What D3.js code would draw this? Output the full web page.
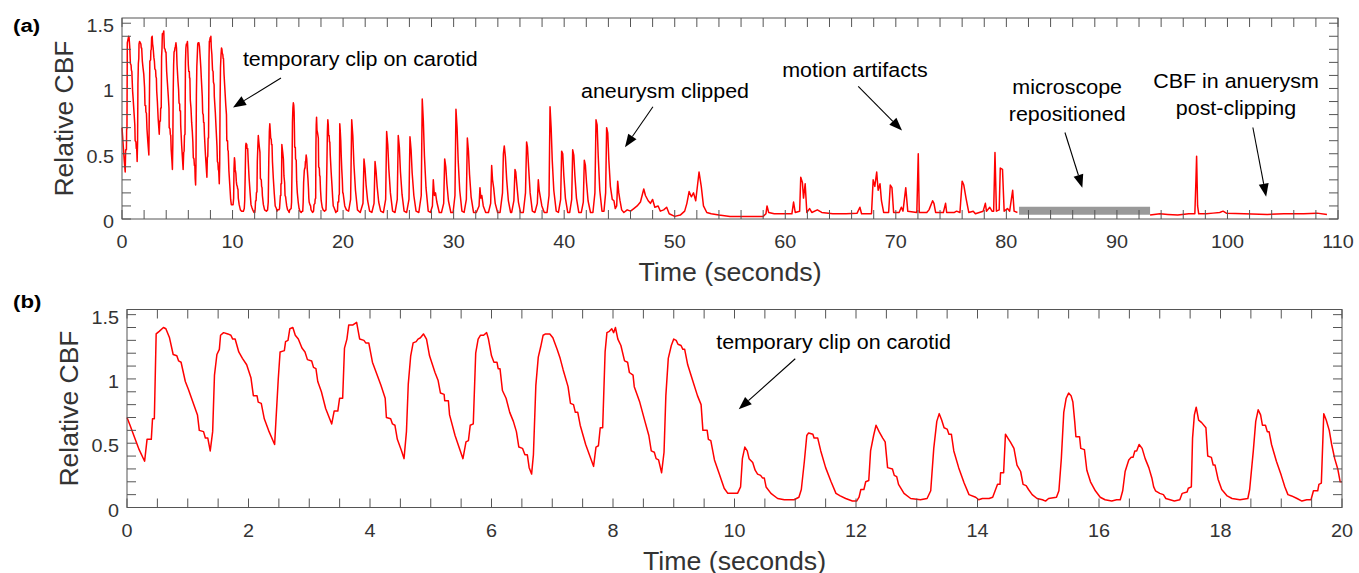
<!DOCTYPE html>
<html>
<head>
<meta charset="utf-8">
<script src="https://cdn.jsdelivr.net/npm/d3@7"></script>
<style>
  body { margin: 0; background: #fff; }
  text { font-family: "Liberation Sans", Arial, Helvetica, sans-serif; }
</style>
</head>
<body>
<svg id="chart"></svg>
<script>
// relative CBF, first 20 s (shown in both panels) -- [seconds, relative CBF]
let cbfFirst20 = [
  [0.00,0.70],[0.05,0.64],[0.12,0.55],[0.20,0.45],[0.29,0.36],[0.33,0.53],[0.40,0.53],[0.42,0.69],[0.45,0.69],
  [0.48,1.35],[0.53,1.37],[0.60,1.40],[0.64,1.39],[0.70,1.32],[0.76,1.19],[0.82,1.18],[0.85,1.14],[0.89,1.13],
  [0.96,0.98],[1.01,0.92],[1.10,0.80],[1.16,0.72],[1.19,0.60],[1.26,0.59],[1.29,0.54],[1.33,0.54],[1.37,0.44],
  [1.41,0.59],[1.44,1.03],[1.48,1.19],[1.52,1.23],[1.54,1.34],[1.59,1.36],[1.66,1.35],[1.71,1.34],[1.74,1.31],
  [1.78,1.31],[1.84,1.21],[1.90,1.16],[1.97,1.11],[2.04,1.01],[2.08,0.87],[2.14,0.87],[2.16,0.82],[2.21,0.81],
  [2.26,0.69],[2.33,0.60],[2.43,0.49],
  [2.45,0.66],[2.49,1.00],[2.52,1.21],[2.59,1.22],[2.61,1.29],[2.65,1.30],[2.68,1.39],[2.73,1.40],[2.77,1.34],
  [2.82,1.31],[2.88,1.24],[2.93,1.21],[2.97,1.15],[3.04,1.14],[3.07,1.09],[3.11,1.08],[3.14,0.98],[3.20,0.90],
  [3.27,0.77],[3.37,0.65],
  [3.41,0.75],[3.47,0.75],[3.50,0.85],[3.55,0.85],[3.58,1.24],[3.62,1.31],[3.65,1.42],[3.72,1.42],[3.78,1.44],
  [3.83,1.31],[3.90,1.30],[3.93,1.28],[3.98,1.28],[4.04,1.13],[4.11,1.04],[4.18,0.95],[4.25,0.85],[4.27,0.70],
  [4.34,0.69],[4.37,0.65],[4.41,0.64],[4.45,0.53],[4.52,0.44],[4.56,0.38],
  [4.60,0.59],[4.63,0.96],[4.67,1.18],[4.71,1.28],[4.76,1.29],[4.79,1.31],[4.83,1.32],[4.88,1.35],[4.93,1.31],
  [4.98,1.18],[5.07,1.05],[5.12,0.99],[5.16,0.89],[5.22,0.88],[5.23,0.83],[5.29,0.83],[5.31,0.72],[5.40,0.56],
  [5.53,0.38],
  [5.58,0.51],[5.62,0.52],[5.65,0.64],[5.70,0.65],[5.74,1.20],[5.78,1.31],[5.82,1.34],[5.87,1.34],[5.92,1.36],
  [5.95,1.31],[6.00,1.18],[6.04,1.13],[6.09,1.13],[6.11,1.08],[6.14,1.08],[6.18,0.91],[6.24,0.85],[6.30,0.74],
  [6.36,0.67],[6.41,0.59],[6.45,0.47],[6.51,0.46],[6.55,0.41],[6.59,0.41],[6.62,0.31],[6.66,0.26],
  [6.69,0.41],[6.73,0.95],[6.77,1.17],[6.81,1.25],[6.85,1.34],[6.89,1.35],[6.96,1.35],[7.01,1.32],[7.08,1.23],
  [7.13,1.16],[7.18,1.07],[7.26,0.94],[7.30,0.81],[7.35,0.80],[7.38,0.74],[7.42,0.74],[7.46,0.64],[7.55,0.49],
  [7.68,0.32],
  [7.72,0.47],[7.76,0.48],[7.79,0.62],[7.83,0.62],[7.87,1.21],[7.90,1.36],[7.94,1.37],[7.98,1.39],[8.01,1.36],
  [8.04,1.40],[8.08,1.31],[8.13,1.26],[8.19,1.14],[8.24,1.13],[8.27,1.05],[8.33,1.03],[8.35,0.94],[8.44,0.82],
  [8.52,0.68],[8.59,0.56],[8.63,0.44],[8.68,0.43],[8.71,0.38],[8.75,0.37],[8.80,0.27],
  [8.84,0.43],[8.87,0.87],[8.91,1.16],[8.96,1.26],[9.00,1.31],[9.04,1.30],[9.07,1.27],[9.12,1.26],[9.15,1.23],
  [9.18,1.23],[9.23,1.11],[9.31,0.99],[9.39,0.87],[9.45,0.80],[9.48,0.60],[9.55,0.60],[9.57,0.53],[9.61,0.52],
  [9.67,0.37],[9.75,0.26],[9.83,0.15],[9.89,0.11],[10.05,0.11],
  [10.10,0.16],[10.13,0.38],[10.17,0.47],[10.21,0.44],[10.24,0.38],[10.30,0.35],[10.34,0.29],[10.38,0.26],
  [10.43,0.25],[10.46,0.23],[10.49,0.23],[10.52,0.16],[10.60,0.11],[10.71,0.07],[10.82,0.06],[10.98,0.06],[11.06,0.08],
  [11.10,0.14],[11.15,0.36],[11.19,0.56],[11.22,0.58],[11.29,0.57],[11.31,0.54],[11.37,0.54],[11.42,0.44],
  [11.50,0.31],[11.59,0.20],[11.67,0.11],[11.74,0.09],[11.83,0.07],[11.94,0.05],[12.01,0.05],[12.05,0.08],
  [12.08,0.14],[12.13,0.14],[12.16,0.20],[12.21,0.21],[12.24,0.44],[12.29,0.56],[12.33,0.64],[12.38,0.59],
  [12.44,0.54],[12.48,0.51],[12.52,0.31],[12.60,0.30],[12.63,0.25],[12.67,0.24],[12.70,0.18],[12.79,0.11],
  [12.90,0.07],[13.06,0.06],[13.17,0.07],
  [13.23,0.13],[13.28,0.46],[13.33,0.67],[13.37,0.73],[13.41,0.68],[13.45,0.62],[13.50,0.61],[13.53,0.57],
  [13.57,0.57],[13.61,0.44],[13.69,0.31],[13.78,0.19],[13.86,0.10],[13.97,0.08],[14.02,0.06],[14.08,0.07],
  [14.19,0.07],[14.25,0.08],
  [14.29,0.13],[14.33,0.18],[14.37,0.18],[14.38,0.27],[14.43,0.27],[14.46,0.57],[14.50,0.54],[14.54,0.51],
  [14.60,0.46],[14.65,0.33],[14.71,0.28],[14.75,0.18],[14.80,0.17],[14.84,0.14],[14.90,0.10],[14.98,0.07],
  [15.07,0.06],[15.12,0.05],[15.17,0.07],[15.30,0.08],
  [15.34,0.13],[15.38,0.38],[15.42,0.74],[15.46,0.85],[15.50,0.89],[15.54,0.87],[15.57,0.82],[15.60,0.67],
  [15.62,0.55],[15.68,0.55],[15.70,0.46],[15.76,0.45],[15.80,0.29],[15.86,0.20],[15.94,0.13],[16.02,0.08],
  [16.10,0.06],[16.21,0.05],[16.29,0.06],[16.35,0.06],
  [16.39,0.13],[16.43,0.28],[16.49,0.37],[16.53,0.39],[16.56,0.39],[16.59,0.44],[16.62,0.44],[16.66,0.49],
  [16.71,0.46],[16.76,0.38],[16.82,0.31],[16.87,0.23],[16.90,0.16],[16.93,0.13],[17.00,0.11],[17.06,0.10],
  [17.10,0.07],[17.17,0.06],[17.24,0.05],[17.33,0.06],[17.37,0.11],[17.45,0.12],[17.47,0.15],[17.52,0.16],
  [17.54,0.54],[17.57,0.72],[17.60,0.78],[17.64,0.68],[17.69,0.66],[17.76,0.62],[17.79,0.40],[17.85,0.39],
  [17.88,0.33],[17.91,0.33],[17.96,0.22],[18.02,0.14],[18.11,0.09],[18.19,0.07],[18.32,0.06],[18.45,0.07],
  [18.48,0.14],[18.54,0.44],[18.58,0.67],[18.62,0.76],[18.66,0.72],[18.69,0.64],[18.74,0.64],[18.77,0.59],
  [18.80,0.59],[18.84,0.49],[18.92,0.36],[19.00,0.25],[19.06,0.16],[19.11,0.10],[19.17,0.09],[19.26,0.07],
  [19.34,0.05],[19.42,0.06],[19.49,0.06],[19.53,0.13],[19.60,0.13],[19.62,0.18],[19.66,0.19],
  [19.70,0.73],[19.74,0.68],[19.79,0.60],[19.83,0.49],[19.88,0.38],[19.93,0.30],[19.97,0.20],[20.00,0.20]
];

// 20 s until the microscope was moved (panel a only)
let cbfToReposition = [
  [20.15,0.10],[20.30,0.07],[20.50,0.06],[20.68,0.15],[20.78,0.76],[20.88,0.64],[20.98,0.42],[21.12,0.22],[21.30,0.07],
  [21.55,0.05],[21.80,0.12],[21.89,0.46],[21.98,0.39],[22.08,0.26],[22.22,0.14],[22.40,0.06],
  [22.60,0.05],[22.80,0.12],[22.89,0.44],[22.98,0.37],[23.08,0.25],[23.22,0.13],[23.40,0.06],
  [23.65,0.05],[23.85,0.15],[23.94,0.67],[24.04,0.57],[24.14,0.38],[24.28,0.20],[24.48,0.06],
  [24.70,0.05],[24.90,0.15],[24.99,0.64],[25.09,0.55],[25.19,0.36],[25.33,0.19],[25.52,0.06],
  [25.75,0.05],[25.96,0.15],[26.05,0.63],[26.15,0.53],[26.25,0.35],[26.40,0.18],[26.60,0.06],
  [26.85,0.05],[27.07,0.18],[27.16,0.92],[27.26,0.75],[27.36,0.48],[27.50,0.24],[27.70,0.06],
  [27.90,0.05],[28.08,0.10],[28.16,0.30],[28.26,0.18],[28.36,0.20],[28.48,0.13],[28.70,0.05],
  [28.90,0.05],[29.10,0.12],[29.19,0.46],[29.29,0.40],[29.39,0.27],[29.53,0.14],[29.75,0.05],
  [29.95,0.05],[30.12,0.18],[30.21,0.84],[30.31,0.70],[30.41,0.45],[30.55,0.22],[30.75,0.06],
  [30.95,0.05],[31.15,0.15],[31.24,0.62],[31.34,0.52],[31.44,0.34],[31.58,0.17],[31.80,0.05],
  [32.05,0.05],[32.30,0.10],[32.38,0.24],[32.46,0.16],[32.55,0.18],[32.68,0.10],[32.90,0.05],
  [33.15,0.05],[33.35,0.12],[33.44,0.41],[33.52,0.30],[33.62,0.24],[33.76,0.12],[33.98,0.05],
  [34.20,0.05],[34.42,0.20],[34.50,0.50],[34.58,0.56],[34.68,0.48],[34.80,0.30],[34.95,0.14],[35.15,0.05],
  [35.25,0.05],[35.45,0.14],[35.55,0.38],[35.62,0.36],[35.72,0.26],[35.86,0.13],[36.05,0.05],
  [36.30,0.05],[36.50,0.20],[36.60,0.59],[36.68,0.55],[36.78,0.40],[36.92,0.20],[37.12,0.06],
  [37.35,0.05],[37.57,0.12],[37.66,0.30],[37.74,0.22],[37.84,0.17],[37.98,0.10],[38.20,0.05],
  [38.45,0.05],[38.63,0.18],[38.72,0.86],[38.82,0.70],[38.92,0.45],[39.06,0.22],[39.28,0.06],
  [39.48,0.05],[39.68,0.15],[39.77,0.52],[39.87,0.50],[39.97,0.33],[40.11,0.16],[40.32,0.05],
  [40.50,0.05],[40.68,0.15],[40.77,0.53],[40.87,0.49],[40.97,0.33],[41.11,0.16],[41.32,0.05],
  [41.55,0.05],[41.73,0.13],[41.82,0.45],[41.92,0.41],[42.02,0.28],[42.16,0.14],[42.38,0.05],
  [42.60,0.05],[42.78,0.20],[42.88,0.76],[42.98,0.72],[43.08,0.48],[43.22,0.22],[43.42,0.06],
  [43.60,0.06],[43.75,0.20],[43.84,0.70],[43.94,0.66],[44.04,0.45],[44.18,0.25],[44.35,0.15],[44.50,0.14],[44.62,0.08],
  [44.75,0.10],[44.84,0.29],[44.94,0.20],[45.05,0.14],[45.20,0.07],[45.40,0.05],
  [45.70,0.07],[46.00,0.06],[46.30,0.08],[46.60,0.10],[46.90,0.13],[47.20,0.23],[47.35,0.18],[47.60,0.14],
  [47.80,0.12],[48.00,0.15],[48.20,0.09],[48.50,0.10],[48.70,0.06],[49.00,0.07],[49.27,0.09],[49.50,0.04],
  [50.00,0.02],[50.50,0.03],[50.90,0.06],[51.10,0.12],[51.30,0.21],[51.50,0.17],[51.70,0.20],[51.90,0.14],
  [52.20,0.36],[52.40,0.25],[52.60,0.10],[52.90,0.05],[53.30,0.04],[54.00,0.03],[55.00,0.02],[56.00,0.02],
  [57.00,0.02],[58.00,0.02],[58.25,0.04],[58.35,0.10],[58.50,0.05],[59.00,0.04],[60.00,0.04],[60.60,0.04],
  [60.75,0.13],[60.90,0.05],[61.30,0.06],[61.40,0.32],[61.55,0.28],[61.65,0.16],[61.80,0.27],[61.95,0.05],
  [62.20,0.08],[62.40,0.05],[62.90,0.07],[63.30,0.05],[64.30,0.04],[65.50,0.04],[66.50,0.045],[66.75,0.09],
  [66.90,0.04],[67.80,0.04],[67.95,0.30],[68.10,0.25],[68.27,0.36],[68.40,0.22],[68.57,0.27],[68.70,0.14],
  [68.90,0.05],[69.35,0.05],[69.50,0.26],[69.65,0.24],[69.80,0.05],[70.30,0.05],[70.50,0.09],[70.65,0.06],
  [70.90,0.24],[71.08,0.06],[71.90,0.05],[72.03,0.50],[72.12,0.05],[72.80,0.05],[73.00,0.07],[73.33,0.14],
  [73.45,0.12],[73.60,0.05],[74.30,0.05],[74.50,0.12],[74.60,0.05],[75.30,0.05],[75.50,0.06],[75.80,0.05],
  [76.00,0.29],[76.15,0.26],[76.35,0.16],[76.60,0.05],[77.00,0.06],[77.20,0.04],[77.90,0.06],[78.10,0.12],
  [78.20,0.06],[78.50,0.09],[78.70,0.06],[78.85,0.06],[78.97,0.51],[79.10,0.06],[79.35,0.07],[79.45,0.39],
  [79.65,0.38],[79.80,0.06],[80.10,0.08],[80.30,0.06],[80.50,0.18],[80.57,0.22],[80.70,0.06],[81.00,0.05]
];

// after the microscope was repositioned
let cbfPostClipping = [
  [93.00,0.03],[93.90,0.04],[94.60,0.035],[95.50,0.03],[96.50,0.04],[97.05,0.04],[97.15,0.30],[97.21,0.48],
  [97.30,0.10],[97.40,0.04],[98.10,0.04],[98.70,0.045],[99.30,0.05],[99.60,0.06],[99.90,0.045],[101.50,0.04],
  [103.60,0.035],[105.10,0.04],[106.90,0.04],[108.10,0.045],[109.00,0.035]
];

// gap while the microscope was repositioned [start, end] seconds, and the level of the grey bar
let repositionSpan = [81.15, 93.0];
let repositionLevel = 0.064;

let yLabels = [0, 0.5, 1, 1.5];
let xLabelsA = [0, 10, 20, 30, 40, 50, 60, 70, 80, 90, 100, 110];
let xLabelsB = [0, 2, 4, 6, 8, 10, 12, 14, 16, 18, 20];

let notesA = [
  {lines: ["temporary clip on carotid"], t: 21.55, v: 1.17, from: [14.38, 1.08], to: [10.04, 0.855]},
  {lines: ["aneurysm clipped"], t: 49.12, v: 0.93, from: [48.03, 0.86], to: [45.5, 0.55]},
  {lines: ["motion artifacts"], t: 66.3, v: 1.09, from: [66.6, 1.016], to: [70.56, 0.678]},
  {lines: ["microscope", "repositioned"], t: 85.5, v: 0.955, from: [85.3, 0.663], to: [86.87, 0.24]},
  {lines: ["CBF in anuerysm", "post-clipping"], t: 100.77, v: 1.0, from: [102.3, 0.701], to: [103.5, 0.171]}
];
let notesB = [
  {lines: ["temporary clip on carotid"], t: 11.63, v: 1.236, from: [11.0, 1.157], to: [10.07, 0.764]}
];

let width = 1359, height = 573;
let stretch = 1.1;   // the source text is a little wider than Arial

let svg = d3.select("#chart")
  .attr("width", width)
  .attr("height", height);

function addText(g, x, y, str, size, anchor, sx) {
  return g.append("text")
    .attr("transform", "translate(" + x + "," + y + ") scale(" + (sx || stretch) + ",1)")
    .attr("text-anchor", anchor)
    .style("font-size", size + "px")
    .text(str);
}

function drawPanel(p) {
  let x = d3.scaleLinear().domain(p.xDomain).range([p.left, p.right]);
  let y = d3.scaleLinear().domain([0, 1.54]).range([p.bottom, p.top]);
  let g = svg.append("g");
  let tick = 9;

  // grey bar first so the trace sits on top
  if (p.bar) {
    g.append("line")
      .attr("x1", x(p.bar[0])).attr("x2", x(p.bar[1]))
      .attr("y1", y(p.barLevel)).attr("y2", y(p.barLevel))
      .attr("stroke", "#999").attr("stroke-width", 8);
  }

  let line = d3.line().x(d => x(d[0])).y(d => y(d[1]));
  p.series.forEach(s => {
    g.append("path")
      .datum(s)
      .attr("d", line)
      .attr("fill", "none")
      .attr("stroke", "#ff0000")
      .attr("stroke-width", 1.5)
      .attr("stroke-linejoin", "round");
  });

  // box
  g.append("rect")
    .attr("x", p.left).attr("y", p.top)
    .attr("width", p.right - p.left).attr("height", p.bottom - p.top)
    .attr("fill", "none").attr("stroke", "#555").attr("stroke-width", 1);

  // inward ticks on all four sides
  let xt = d3.range(p.xDomain[0], p.xDomain[1] + 1e-9, p.xStep);
  let yt = d3.range(0, 1.5 + 1e-9, 0.1);
  let tg = g.append("g").attr("stroke", "#555").attr("stroke-width", 1);
  xt.forEach(t => {
    tg.append("line").attr("x1", x(t)).attr("x2", x(t)).attr("y1", p.bottom).attr("y2", p.bottom - tick);
    tg.append("line").attr("x1", x(t)).attr("x2", x(t)).attr("y1", p.top).attr("y2", p.top + tick);
  });
  yt.forEach(v => {
    tg.append("line").attr("x1", p.left).attr("x2", p.left + tick).attr("y1", y(v)).attr("y2", y(v));
    tg.append("line").attr("x1", p.right).attr("x2", p.right - tick).attr("y1", y(v)).attr("y2", y(v));
  });

  let lab = g.append("g").attr("fill", "#333");
  p.xLabels.forEach(t => addText(lab, x(t), p.bottom + 29, t, 18, "middle"));
  yLabels.forEach(v => addText(lab, p.left - 8, y(v) + 9, v, 18, "end"));

  addText(lab, (p.left + p.right) / 2, p.bottom + p.titleGap, "Time (seconds)", 25, "middle", 1.07);
  lab.append("text")
    .attr("transform", "translate(" + p.yTitleX + "," + ((p.top + p.bottom) / 2) + ") rotate(-90)")
    .attr("text-anchor", "middle")
    .style("font-size", "26.5px")
    .text("Relative CBF");

  // panel letter
  addText(g, 13, p.letterY, p.letter, 18.5, "start", 1.2).style("font-weight", "bold");

  // annotations with arrows
  p.notes.forEach(n => {
    n.lines.forEach((s, i) => addText(g, x(n.t), y(n.v) + i * 27, s, 19.5, "middle"));
    let x1 = x(n.from[0]), y1 = y(n.from[1]), x2 = x(n.to[0]), y2 = y(n.to[1]);
    let a = Math.atan2(y2 - y1, x2 - x1), len = 13, half = 5;
    let bx = x2 - len * Math.cos(a), by = y2 - len * Math.sin(a);
    g.append("line")
      .attr("x1", x1).attr("y1", y1).attr("x2", bx).attr("y2", by)
      .attr("stroke", "#000").attr("stroke-width", 1.1);
    g.append("path")
      .attr("d", "M" + x2 + "," + y2 +
        "L" + (bx + half * Math.sin(a)) + "," + (by - half * Math.cos(a)) +
        "L" + (bx - half * Math.sin(a)) + "," + (by + half * Math.cos(a)) + "Z")
      .attr("fill", "#000");
  });
}

drawPanel({
  left: 122, right: 1338, top: 18, bottom: 219,
  xDomain: [0, 110], xStep: 2, xLabels: xLabelsA,
  series: [cbfFirst20.concat(cbfToReposition), cbfPostClipping],
  bar: repositionSpan, barLevel: repositionLevel,
  notes: notesA, titleGap: 62, yTitleX: 73,
  letter: "(a)", letterY: 32
});

drawPanel({
  left: 127, right: 1342, top: 309.5, bottom: 507.5,
  xDomain: [0, 20], xStep: 0.5, xLabels: xLabelsB,
  series: [cbfFirst20],
  notes: notesB, titleGap: 62, yTitleX: 78,
  letter: "(b)", letterY: 308
});
</script>
</body>
</html>
